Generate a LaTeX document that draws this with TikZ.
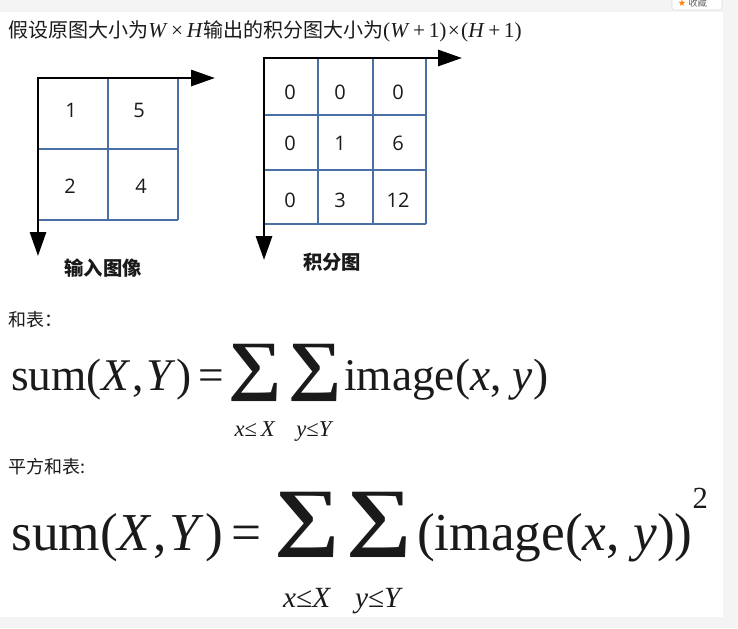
\documentclass[tikz,border=0pt]{standalone}
\usepackage{graphicx}
\usepackage{fontspec}
\newfontfamily\cjk{Noto Sans CJK SC}
\newfontfamily\digitfont{Open Sans}
\newfontfamily\symfont{DejaVu Sans}
\newfontfamily\tms{Liberation Serif}
\usetikzlibrary{arrows.meta}
\definecolor{gridblue}{HTML}{4A6FA5}
\definecolor{bggray}{HTML}{F4F4F4}
\definecolor{ink}{HTML}{1A1A1A}
% big operator with limit below: #1 sigma box, #2 limit, #3 height of limit row
\newcommand\opsum[3]{\vtop{\offinterlineskip\halign{\hfil##\hfil\cr #1\cr \raisebox{0pt}[#3][0pt]{#2}\cr}}}
% sigma of width #1, total height #2, depth below baseline #3
\newcommand\sigbox[3]{\lower#3\hbox{\resizebox*{#1}{#2}{\raisebox{\depth}{\tms\bfseries ∑}}}}
\tikzset{
  gridline/.style={draw=gridblue, line width=1.4pt},
  axisline/.style={draw=black, line width=2.2pt,
    {Triangle[length=18pt,width=12pt]}-{Triangle[length=18pt,width=12pt]}},
  num/.style={font=\digitfont\fontsize{15}{15}\selectfont, text=ink, inner sep=0pt},
  cjklabel/.style={font=\cjk\bfseries\fontsize{14.5}{14.5}\selectfont, text=ink, inner sep=0pt},
  cjktext/.style={font=\cjk\fontsize{13.5}{13.5}\selectfont, text=ink, inner sep=0pt, anchor=west},
  formula/.style={anchor=base west, inner sep=0pt, text=ink},
}
\begin{document}
\begin{tikzpicture}[x=0.75pt,y=-0.75pt]
\useasboundingbox (0,0) rectangle (738,628);
\fill[bggray] (0,0) rectangle (738,628);
\fill[white] (0,12) rectangle (723,617);
% favourite button
\draw[fill=white, draw=black!15, rounded corners=1.5pt] (672,-4) rectangle (722,10);
\node[text=orange, font=\symfont\fontsize{7}{7}\selectfont, inner sep=0pt] (star) at (682,3) {★};
\node[text=black!60, font=\cjk\fontsize{7}{7}\selectfont, inner sep=0pt, anchor=west] (fav) at (688,3) {收藏};
% title
\node[anchor=base west, inner sep=0pt, text=ink, font=\fontsize{15}{15}\selectfont] (title) at (8,37)
  {{\cjk 假设原图大小为}{\tms\fontsize{16}{16}\selectfont\textit{W}\,×\,\textit{H}}{\cjk 输出的积分图大小为}{\tms\fontsize{16}{16}\selectfont(\textit{W}\,+\,1)\kern1pt×\kern1pt(\textit{H}\,+\,1)}};
% grid 1
\coordinate (o1) at (38,78);
\coordinate (x1) at (215,78);
\coordinate (y1) at (38,256);
\draw[gridline] (108,78) -- (108,220);
\draw[gridline] (178,78) -- (178,220);
\draw[gridline] (38,149) -- (178,149);
\draw[gridline] (38,220) -- (178,220);
\draw[axisline] (x1) -- (o1) -- (y1);
\node[num] (a1) at (71,110) {1};
\node[num] (a2) at (139,110) {5};
\node[num] (a3) at (70,186) {2};
\node[num] (a4) at (141,186) {4};
\node[cjklabel] (lab1) at (103,268) {输入图像};
% grid 2
\coordinate (o2) at (264,58);
\coordinate (x2) at (462,58);
\coordinate (y2) at (264,260);
\foreach \xx in {318,373,426} \draw[gridline] (\xx,58) -- (\xx,224);
\foreach \yy in {115,170,224} \draw[gridline] (264,\yy) -- (426,\yy);
\draw[axisline] (x2) -- (o2) -- (y2);
\node[num] (b11) at (290,92) {0};
\node[num] (b12) at (340,92) {0};
\node[num] (b13) at (398,92) {0};
\node[num] (b21) at (290,143) {0};
\node[num] (b22) at (340,143) {1};
\node[num] (b23) at (398,143) {6};
\node[num] (b31) at (290,200) {0};
\node[num] (b32) at (340,200) {3};
\node[num] (b33) at (398,200) {12};
\node[cjklabel] (lab2) at (332,262) {积分图};
% sum table
\node[cjktext] (h1) at (8,320) {和表：};
\node[formula, font=\tms\fontsize{34}{34}\selectfont] (f1) at (11,390)
  {sum(\textit{X}\kern1pt,\kern2pt\textit{Y}\kern1pt)\kern5pt=\kern3pt%
   \opsum{\sigbox{40pt}{43pt}{9pt}}{\fontsize{17}{17}\selectfont\textit{x}≤\,\textit{X}}{26pt}\kern5pt%
   \opsum{\sigbox{40pt}{43pt}{9pt}}{\fontsize{17}{17}\selectfont\textit{y}≤\textit{Y}}{26pt}\kern2pt%
   image(\textit{x}, \textit{y})};
% square sum table
\node[cjktext] (h2) at (8,467) {平方和表:};
\node[formula, font=\tms\fontsize{40}{40}\selectfont] (f2) at (11,550)
  {sum(\textit{X}\kern1pt,\kern2pt\textit{Y}\kern1pt)\kern6pt=\kern10pt%
   \opsum{\sigbox{49pt}{49pt}{6pt}}{\fontsize{22}{22}\selectfont\textit{x}≤\textit{X}}{37pt}\kern5pt%
   \opsum{\sigbox{49pt}{49pt}{6pt}}{\fontsize{22}{22}\selectfont\textit{y}≤\textit{Y}}{37pt}\kern4pt%
   (image(\textit{x}, \textit{y}))\raise31pt\hbox{\fontsize{23}{23}\selectfont 2}};
\end{tikzpicture}
\end{document}
